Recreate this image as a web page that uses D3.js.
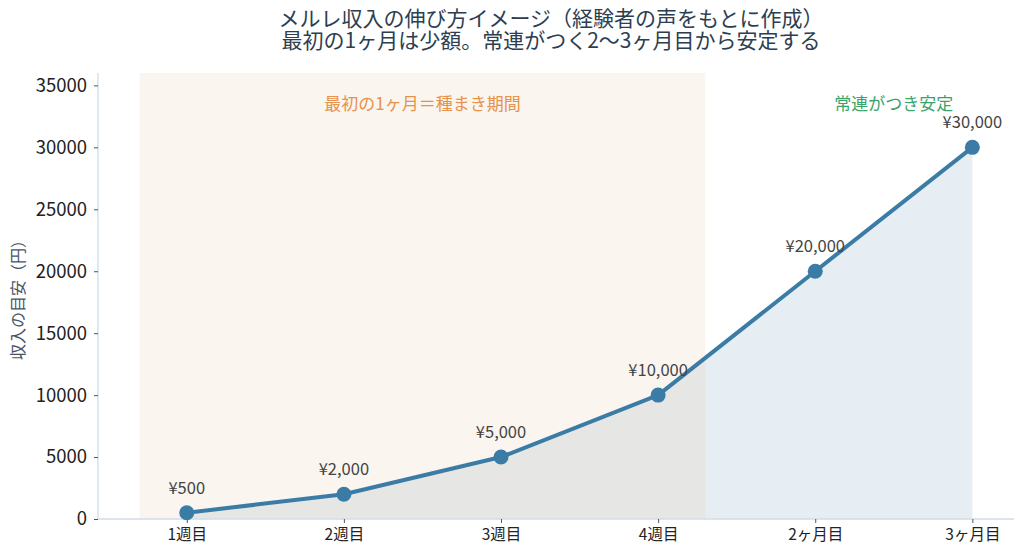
<!DOCTYPE html>
<html><head><meta charset="utf-8">
<script src="https://cdn.jsdelivr.net/npm/d3@7"></script>
<style>
html,body{margin:0;padding:0;background:#fff;}
svg{display:block;}
text{font-family:"Noto Sans CJK JP","Noto Sans",sans-serif;}
</style></head>
<body>
<svg id="chart" width="1024" height="556"></svg>
<script>
const categories = ["1週目","2週目","3週目","4週目","2ヶ月目","3ヶ月目"];
const income = [500, 2000, 5000, 10000, 20000, 30000];
const valueLabels = ["¥500","¥2,000","¥5,000","¥10,000","¥20,000","¥30,000"];
const yTicks = [0,5000,10000,15000,20000,25000,30000,35000];
const titleLines = ["メルレ収入の伸び方イメージ（経験者の声をもとに作成）","最初の1ヶ月は少額。常連がつく2〜3ヶ月目から安定する"];
const phaseSpans = [{from:-0.3,to:3.3,label:"最初の1ヶ月＝種まき期間",labelAt:1.5}];
const phaseNote = {label:"常連がつき安定", at:4.5};
const yLabel = "収入の目安（円）";

const svg = d3.select("#chart");
const L=98, R=1014, T=73, B=519;
const x = d3.scaleLinear().domain([-0.565,5.265]).range([L,R]);
const y = d3.scaleLinear().domain([0,36000]).range([B,T]);

// area under line
const idx = income.map((v,i)=>i);
const area = d3.area().x(i=>x(i)).y0(y(0)).y1(i=>y(income[i]));
svg.append("path").datum(idx).attr("d",area).attr("fill","#3b7ca6").attr("fill-opacity",0.13);

// phase span (drawn over the area, translucent)
phaseSpans.forEach(s=>{
  svg.append("rect").attr("x",x(s.from)).attr("y",T).attr("width",x(s.to)-x(s.from)).attr("height",B-T)
    .attr("fill","#e6cdaf").attr("fill-opacity",0.2);
});

// axes
const yAxis = d3.axisLeft(y).tickValues(yTicks).tickSize(4).tickPadding(7).tickFormat(d3.format("d"));
const gy = svg.append("g").attr("transform",`translate(${L},0)`).call(yAxis);
gy.select(".domain").attr("stroke","#d3dbe6").attr("stroke-width",1.3).attr("d",`M0,${B}V${T}`);
gy.selectAll(".tick line").attr("stroke","#555");
gy.selectAll(".tick text").attr("font-size",18.5).attr("fill","#222");

const xAxis = d3.axisBottom(x).tickValues(idx).tickSize(4).tickPadding(6).tickFormat(i=>categories[i]);
const gx = svg.append("g").attr("transform",`translate(0,${B})`).call(xAxis);
gx.select(".domain").attr("stroke","#d3dbe6").attr("stroke-width",1.3).attr("d",`M${L},0H${R}`);
gx.selectAll(".tick line").attr("stroke","#555");
gx.selectAll(".tick text").attr("font-size",15.5).attr("fill","#222");

// line
const line = d3.line().x(i=>x(i)).y(i=>y(income[i]));
svg.append("path").datum(idx).attr("d",line).attr("fill","none").attr("stroke","#3b7ca6").attr("stroke-width",4).attr("stroke-linejoin","round");
svg.selectAll("circle.pt").data(idx).join("circle").attr("class","pt")
  .attr("cx",i=>x(i)).attr("cy",i=>y(income[i])).attr("r",7.5).attr("fill","#3b7ca6");

// value labels
svg.selectAll("text.vl").data(idx).join("text").attr("class","vl")
  .attr("x",i=>x(i)).attr("y",i=>y(income[i])-19).attr("text-anchor","middle")
  .attr("font-size",16.5).attr("fill","#444").text(i=>valueLabels[i]);

// phase labels
phaseSpans.forEach(s=>{
  svg.append("text").attr("x",x(s.labelAt)).attr("y",110).attr("text-anchor","middle")
    .attr("font-size",17).attr("fill","#e8914a").text(s.label);
});
svg.append("text").attr("x",x(phaseNote.at)).attr("y",110).attr("text-anchor","middle")
  .attr("font-size",17).attr("fill","#3aa36a").text(phaseNote.label);

// y label
svg.append("text").attr("transform",`translate(24,${(T+B)/2}) rotate(-90)`).attr("text-anchor","middle")
  .attr("font-size",16).attr("fill","#4a5568").text(yLabel);

// title
titleLines.forEach((t,k)=>{
  svg.append("text").attr("x",(L+R)/2-5).attr("y",26+k*22).attr("text-anchor","middle")
    .attr("font-size",21).attr("fill","#2c3e50").text(t);
});
</script>
</body></html>
